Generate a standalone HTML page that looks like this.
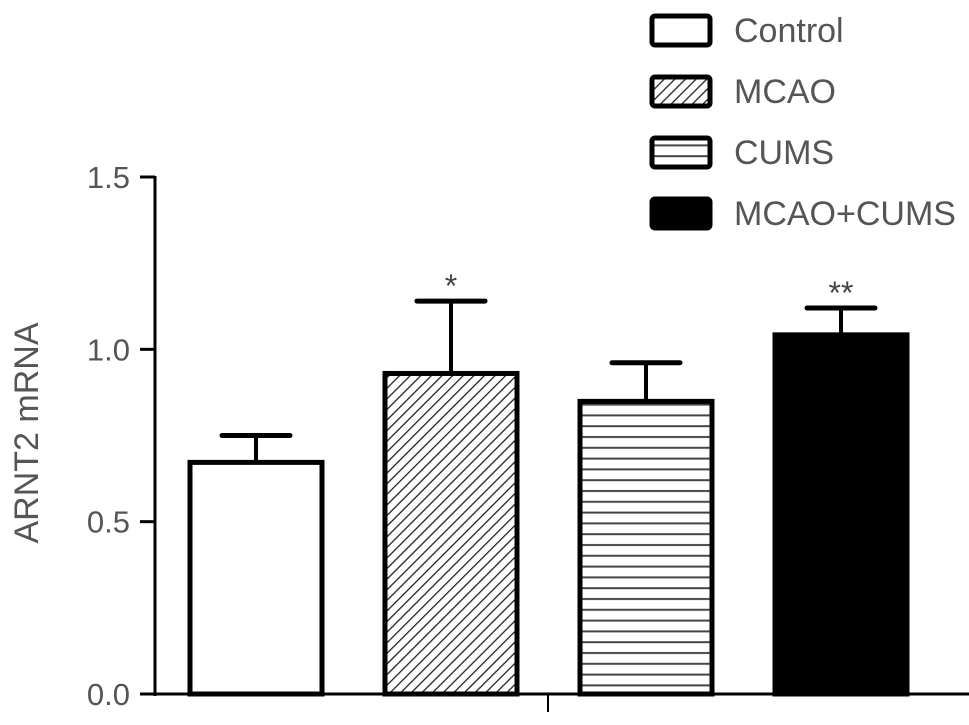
<!DOCTYPE html>
<html><head><meta charset="utf-8"><style>
html,body{margin:0;padding:0;background:#fff;}
svg{display:block;font-family:"Liberation Sans",sans-serif;}
</style></head><body>
<svg id="chart" width="969" height="725" viewBox="0 0 969 725">
<defs>
<pattern id="diag" patternUnits="userSpaceOnUse" width="7.5" height="7.5" patternTransform="rotate(45)">
<rect width="7.5" height="7.5" fill="#fff"/><line x1="0" y1="0" x2="0" y2="7.5" stroke="#222" stroke-width="2.6"/>
</pattern>
<pattern id="horiz" patternUnits="userSpaceOnUse" width="10" height="10.8">
<rect width="10" height="10.8" fill="#fff"/><line x1="0" y1="5" x2="10" y2="5" stroke="#444" stroke-width="2"/>
</pattern>
</defs>
<g id="axes"></g>
<g id="bars"></g>
<g id="legend"></g>
</svg>
<script>
const categories = ["Control","MCAO","CUMS","MCAO+CUMS"];
const values = [0.672, 0.93, 0.849, 1.042];
const errors = [0.078, 0.21, 0.112, 0.078];
const sigLabels = ["", "*", "", "**"];
const yTicks = [0.0, 0.5, 1.0, 1.5];
const yTickLabels = ["0.0","0.5","1.0","1.5"];
const fills = ["#fff","url(#diag)","url(#horiz)","#000"];

const NS="http://www.w3.org/2000/svg";
function y(v){return 694 - v*(694-177)/1.5;}
function xLeft(i){return 190 + i*195;}
const bw=132;
function mk(tag,attrs,parent){const e=document.createElementNS(NS,tag);for(const k in attrs)e.setAttribute(k,attrs[k]);parent.appendChild(e);return e;}

const axes=document.getElementById('axes');
let el=mk('line',{x1:155,y1:176,x2:155,y2:696,stroke:'#000','stroke-width':3},axes);


el=mk('line',{x1:140,y1:694,x2:969,y2:694,stroke:'#000','stroke-width':3},axes);


el=mk('line',{x1:548,y1:694,x2:548,y2:712,stroke:'#000','stroke-width':2},axes);


yTicks.forEach((t,i)=>{
  const tk=mk('line',{x1:140,y1:y(t),x2:155,y2:y(t),stroke:'#000','stroke-width':3},axes);
  
  
  const tx=mk('text',{x:130,y:y(t)+11,'text-anchor':'end','font-size':31,fill:'#555'},axes);
  tx.textContent=yTickLabels[i];
  
  
});
el=mk('text',{x:0,y:0,'text-anchor':'middle','font-size':34,fill:'#555',transform:'translate(38,433) rotate(-90)'},axes);
el.textContent='ARNT2 mRNA';



const bars=document.getElementById('bars');
values.forEach((v,i)=>{
  const xl=xLeft(i), cx=xl+bw/2;
  const eb=mk('line',{x1:cx,y1:y(v),x2:cx,y2:y(v+errors[i]),stroke:'#000','stroke-width':4},bars);
  
  
  const cap=mk('line',{x1:cx-34,y1:y(v+errors[i]),x2:cx+34,y2:y(v+errors[i]),stroke:'#000','stroke-width':5,'stroke-linecap':'round'},bars);
  
  
  const r=mk('rect',{x:xl,y:y(v),width:bw,height:y(0)-y(v),fill:fills[i],stroke:'#000','stroke-width':5},bars);
  
  
  if(sigLabels[i]){
    const s=mk('text',{x:cx,y:y(v+errors[i])-4,'text-anchor':'middle','font-size':32,fill:'#444'},bars);
    s.textContent=sigLabels[i];
    
    
  }
});

const lg=document.getElementById('legend');
categories.forEach((c,i)=>{
  const cy=30+i*61;
  const b=mk('rect',{x:652,y:cy-14,width:58,height:29,rx:3,fill:fills[i],stroke:'#000','stroke-width':5},lg);
  
  
  const t=mk('text',{x:734,y:cy+12,'font-size':34,fill:'#555'},lg);
  t.textContent=c;
  
  
});
</script>
</body></html>
